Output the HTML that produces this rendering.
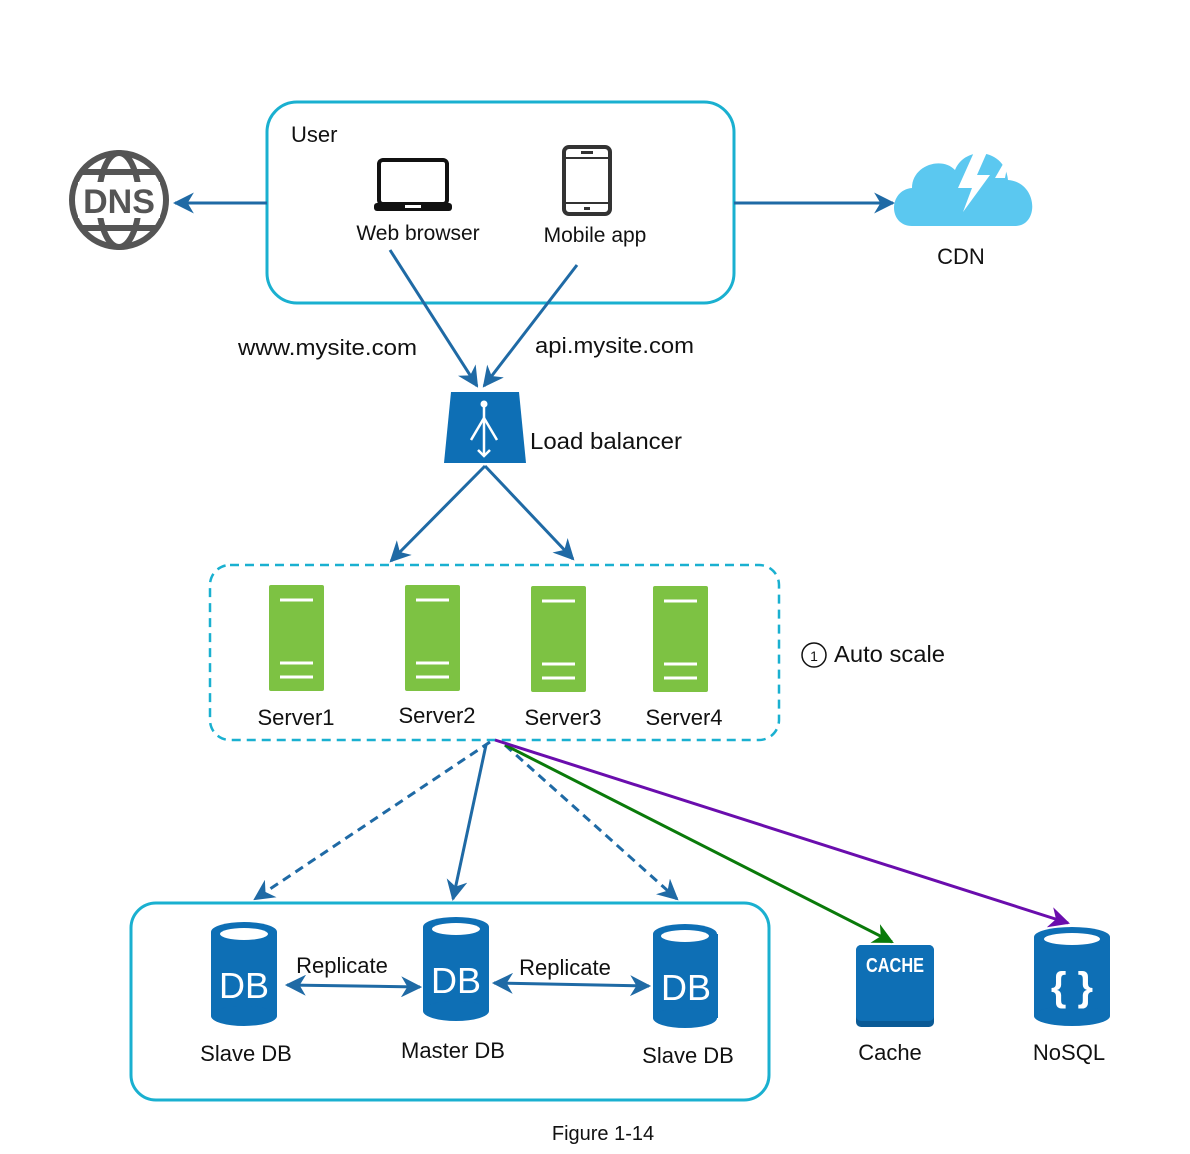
<!DOCTYPE html>
<html><head><meta charset="utf-8"><style>
html,body{margin:0;padding:0;background:#fff}
svg{display:block}
text{font-family:"Liberation Sans",sans-serif;fill:#111}
</style></head><body>
<svg width="1190" height="1154" viewBox="0 0 1190 1154" xmlns="http://www.w3.org/2000/svg">
<defs>
<marker id="ab" viewBox="0 0 10 10" refX="9" refY="5" markerWidth="7" markerHeight="7" orient="auto-start-reverse"><path d="M0,0 L10,5 L0,10 L3,5z" fill="#1f6aa5"/></marker>
<marker id="ag" viewBox="0 0 10 10" refX="9" refY="5" markerWidth="7" markerHeight="7" orient="auto"><path d="M0,0 L10,5 L0,10 L3,5z" fill="#0a7a0a"/></marker>
<marker id="ap" viewBox="0 0 10 10" refX="9" refY="5" markerWidth="7" markerHeight="7" orient="auto"><path d="M0,0 L10,5 L0,10 L3,5z" fill="#6a0dad"/></marker>
</defs>
<rect x="267" y="102" width="467" height="201" rx="30" fill="none" stroke="#1ab0d0" stroke-width="3"/>
<text x="291" y="142" font-size="22">User</text>
<rect x="379" y="160" width="68" height="44" rx="4" fill="none" stroke="#111" stroke-width="4"/>
<rect x="374" y="203" width="78" height="8" rx="3" fill="#111"/>
<rect x="405" y="205" width="16" height="3" fill="#fff"/>
<text x="418" y="240" font-size="21" text-anchor="middle">Web browser</text>
<rect x="564" y="147" width="46" height="67" rx="5" fill="none" stroke="#333" stroke-width="4"/>
<line x1="564" y1="158" x2="610" y2="158" stroke="#333" stroke-width="2"/>
<line x1="564" y1="203" x2="610" y2="203" stroke="#333" stroke-width="2"/>
<rect x="581" y="151" width="12" height="3" fill="#333"/>
<rect x="584" y="207" width="6" height="3" fill="#333"/>
<text x="595" y="242" font-size="21" text-anchor="middle">Mobile app</text>
<g stroke="#555" fill="none" stroke-width="6">
<circle cx="119" cy="200" r="47"/>
<ellipse cx="119" cy="200" rx="20" ry="47"/>
<line x1="80" y1="172" x2="158" y2="172"/>
<line x1="80" y1="228" x2="158" y2="228"/>
</g>
<rect x="78" y="182" width="82" height="36" fill="#fff"/>
<text x="119" y="213" font-size="34" font-weight="bold" text-anchor="middle" style="fill:#555">DNS</text>
<line x1="267" y1="203" x2="175" y2="203" stroke="#1f6aa5" stroke-width="3" marker-end="url(#ab)"/>
<line x1="734" y1="203" x2="893" y2="203" stroke="#1f6aa5" stroke-width="3" marker-end="url(#ab)"/>
<path d="M912,226 C888,226 888,190 912,188 C912,165 942,156 955,170 C965,145 1005,148 1008,180 C1038,182 1040,226 1015,226 Z" fill="#5bc8f0"/>
<path d="M975,150 L958,188 L972,188 L963,212 L990,175 L977,175 L988,150 Z" fill="#fff"/>
<path d="M1010,152 L995,178 L1005,178 Z" fill="#fff"/>
<text x="961" y="264" font-size="22" text-anchor="middle">CDN</text>
<line x1="390" y1="250" x2="477" y2="386" stroke="#1f6aa5" stroke-width="3" marker-end="url(#ab)"/>
<line x1="577" y1="265" x2="484" y2="386" stroke="#1f6aa5" stroke-width="3" marker-end="url(#ab)"/>
<text x="238" y="355" font-size="22" textLength="179" lengthAdjust="spacingAndGlyphs">www.mysite.com</text>
<text x="535" y="353" font-size="22" textLength="159" lengthAdjust="spacingAndGlyphs">api.mysite.com</text>
<path d="M451,392 L519,392 L526,463 L444,463 Z" fill="#0e6fb5"/>
<g stroke="#fff" stroke-width="2.5" fill="none">
<line x1="484" y1="404" x2="484" y2="456"/>
<line x1="484" y1="418" x2="471" y2="440"/>
<line x1="484" y1="418" x2="497" y2="440"/>
<polyline points="478,450 484,456 490,450"/>
</g>
<circle cx="484" cy="404" r="3.5" fill="#fff"/>
<text x="530" y="449" font-size="23" textLength="152" lengthAdjust="spacingAndGlyphs">Load balancer</text>
<line x1="485" y1="466" x2="391" y2="561" stroke="#1f6aa5" stroke-width="3" marker-end="url(#ab)"/>
<line x1="485" y1="466" x2="573" y2="559" stroke="#1f6aa5" stroke-width="3" marker-end="url(#ab)"/>
<rect x="210" y="565" width="569" height="175" rx="20" fill="none" stroke="#1ab0d0" stroke-width="2.5" stroke-dasharray="9,6"/>
<g fill="#7dc243">
<rect x="269" y="585" width="55" height="106" rx="2"/>
<rect x="405" y="585" width="55" height="106" rx="2"/>
<rect x="531" y="586" width="55" height="106" rx="2"/>
<rect x="653" y="586" width="55" height="106" rx="2"/>
</g>
<g stroke="#fff" stroke-width="3">
<line x1="280" y1="600" x2="313" y2="600"/><line x1="280" y1="663" x2="313" y2="663"/><line x1="280" y1="677" x2="313" y2="677"/>
<line x1="416" y1="600" x2="449" y2="600"/><line x1="416" y1="663" x2="449" y2="663"/><line x1="416" y1="677" x2="449" y2="677"/>
<line x1="542" y1="601" x2="575" y2="601"/><line x1="542" y1="664" x2="575" y2="664"/><line x1="542" y1="678" x2="575" y2="678"/>
<line x1="664" y1="601" x2="697" y2="601"/><line x1="664" y1="664" x2="697" y2="664"/><line x1="664" y1="678" x2="697" y2="678"/>
</g>
<text x="296" y="725" font-size="22" text-anchor="middle">Server1</text>
<text x="437" y="723" font-size="22" text-anchor="middle">Server2</text>
<text x="563" y="725" font-size="22" text-anchor="middle">Server3</text>
<text x="684" y="725" font-size="22" text-anchor="middle">Server4</text>
<circle cx="814" cy="655" r="12" fill="none" stroke="#111" stroke-width="1.5"/>
<text x="814" y="661" font-size="14" text-anchor="middle">1</text>
<text x="834" y="662" font-size="23" textLength="111" lengthAdjust="spacingAndGlyphs">Auto scale</text>
<line x1="490" y1="742" x2="255" y2="899" stroke="#1f6aa5" stroke-width="3" stroke-dasharray="9,6" marker-end="url(#ab)"/>
<line x1="486" y1="745" x2="453" y2="899" stroke="#1f6aa5" stroke-width="3" marker-end="url(#ab)"/>
<line x1="505" y1="745" x2="677" y2="899" stroke="#1f6aa5" stroke-width="3" stroke-dasharray="9,6" marker-end="url(#ab)"/>
<line x1="505" y1="745" x2="892" y2="942" stroke="#0a7a0a" stroke-width="3" marker-end="url(#ag)"/>
<line x1="495" y1="740" x2="1068" y2="923" stroke="#6a0dad" stroke-width="3" marker-end="url(#ap)"/>
<rect x="131" y="903" width="638" height="197" rx="25" fill="none" stroke="#1ab0d0" stroke-width="3"/>
<g fill="#0e6fb5">
<rect x="211" y="932" width="66" height="84"/><ellipse cx="244" cy="932" rx="33" ry="10"/><ellipse cx="244" cy="1016" rx="33" ry="10"/>
<rect x="423" y="927" width="66" height="84"/><ellipse cx="456" cy="927" rx="33" ry="10"/><ellipse cx="456" cy="1011" rx="33" ry="10"/>
<rect x="653" y="934" width="65" height="84"/><ellipse cx="685" cy="934" rx="32" ry="10"/><ellipse cx="685" cy="1018" rx="32" ry="10"/>
<rect x="1034" y="937" width="76" height="79"/><ellipse cx="1072" cy="937" rx="38" ry="10"/><ellipse cx="1072" cy="1016" rx="38" ry="10"/>
</g>
<g fill="#fff">
<ellipse cx="244" cy="934" rx="24" ry="6"/><ellipse cx="456" cy="929" rx="24" ry="6"/><ellipse cx="685" cy="936" rx="24" ry="6"/><ellipse cx="1072" cy="939" rx="28" ry="6"/>
</g>
<text x="244" y="998" font-size="36" text-anchor="middle" style="fill:#fff">DB</text>
<text x="456" y="993" font-size="36" text-anchor="middle" style="fill:#fff">DB</text>
<text x="686" y="1000" font-size="36" text-anchor="middle" style="fill:#fff">DB</text>
<text x="1072" y="1000" font-size="40" font-weight="bold" text-anchor="middle" style="fill:#fff">{ }</text>
<line x1="287" y1="985" x2="420" y2="987" stroke="#1f6aa5" stroke-width="3" marker-start="url(#ab)" marker-end="url(#ab)"/>
<line x1="494" y1="983" x2="649" y2="986" stroke="#1f6aa5" stroke-width="3" marker-start="url(#ab)" marker-end="url(#ab)"/>
<text x="342" y="973" font-size="22" text-anchor="middle">Replicate</text>
<text x="565" y="975" font-size="22" text-anchor="middle">Replicate</text>
<text x="246" y="1061" font-size="22" text-anchor="middle">Slave DB</text>
<text x="453" y="1058" font-size="22" text-anchor="middle">Master DB</text>
<text x="688" y="1063" font-size="22" text-anchor="middle">Slave DB</text>
<rect x="856" y="945" width="78" height="82" rx="5" fill="#0a5a96"/>
<rect x="856" y="945" width="78" height="76" rx="5" fill="#0e6fb5"/>
<text x="895" y="972" font-size="20" font-weight="bold" text-anchor="middle" style="fill:#fff" textLength="58" lengthAdjust="spacingAndGlyphs">CACHE</text>
<text x="890" y="1060" font-size="22" text-anchor="middle">Cache</text>
<text x="1069" y="1060" font-size="22" text-anchor="middle">NoSQL</text>
<text x="603" y="1140" font-size="20" text-anchor="middle">Figure 1-14</text>
</svg>
</body></html>
